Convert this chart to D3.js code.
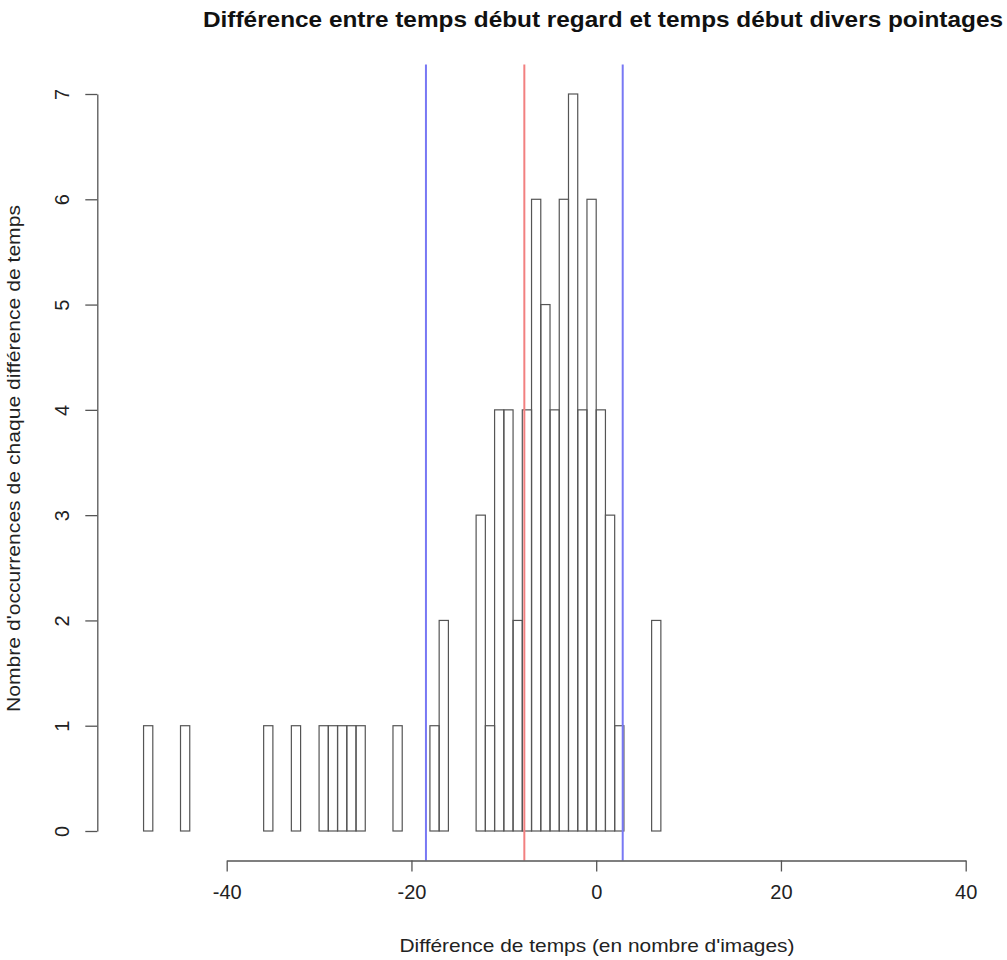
<!DOCTYPE html>
<html>
<head>
<meta charset="utf-8">
<script src="https://cdn.jsdelivr.net/npm/d3@7"></script>
<style>
  body { margin: 0; background: #fff; }
  svg { display: block; font-family: "Liberation Sans", Arial, sans-serif; }
</style>
</head>
<body>
<div id="chart"></div>
<script>
// Histogram bins (left edge, width 1 image) and counts
const binLefts = [-49, -48, -47, -46, -45, -44, -43, -42, -41, -40, -39, -38, -37, -36,
  -35, -34, -33, -32, -31, -30, -29, -28, -27, -26, -25, -24, -23, -22, -21, -20, -19,
  -18, -17, -16, -15, -14, -13, -12, -11, -10, -9, -8, -7, -6, -5, -4, -3, -2, -1,
  0, 1, 2, 3, 4, 5, 6];
const counts = [1, 0, 0, 0, 1, 0, 0, 0, 0, 0, 0, 0, 0, 1,
  0, 0, 1, 0, 0, 1, 1, 1, 1, 1, 0, 0, 0, 1, 0, 0, 0,
  1, 2, 0, 0, 0, 3, 1, 4, 4, 2, 4, 6, 5, 4, 6, 7, 4, 6,
  4, 3, 1, 0, 0, 0, 2];
const binWidth = 1;

// mean (red) and mean +/- sd (blue)
const meanLine = -7.78;
const sdLines = [-18.43, 2.87];

const xTicks = [-40, -20, 0, 20, 40];
const yTicks = [0, 1, 2, 3, 4, 5, 6, 7];

const title = 'Différence entre temps début regard et temps début divers pointages';
const xTitle = "Différence de temps (en nombre d'images)";
const yTitle = "Nombre d'occurrences de chaque différence de temps";

const width = 1007, height = 960;

const x = d3.scaleLinear().domain([-40, 40]).range([226.7, 965.7]);
const y = d3.scaleLinear().domain([0, 7]).range([831, 94]);

// plot region (R usr extents)
const plotLeft = 97.3, plotTop = y(7.28), plotBottom = y(-0.28);

const svg = d3.select('#chart')
  .append('svg')
  .attr('width', width)
  .attr('height', height);

// Bars
const bins = binLefts.map((b, i) => ({ x0: b, x1: b + binWidth, n: counts[i] }));

svg.append('g')
  .attr('class', 'bars')
  .selectAll('rect')
  .data(bins)
  .enter()
  .append('rect')
  .attr('x', d => x(d.x0))
  .attr('y', d => y(d.n))
  .attr('width', d => x(d.x1) - x(d.x0))
  .attr('height', d => y(0) - y(d.n))
  .attr('fill', 'none')
  .attr('stroke', '#555')
  .attr('stroke-width', 1.2);

// Vertical reference lines
svg.append('line')
  .attr('x1', x(meanLine)).attr('x2', x(meanLine))
  .attr('y1', plotTop).attr('y2', plotBottom)
  .attr('stroke', '#f28080')
  .attr('stroke-width', 2);

svg.append('g')
  .selectAll('line')
  .data(sdLines)
  .enter()
  .append('line')
  .attr('x1', d => x(d)).attr('x2', d => x(d))
  .attr('y1', plotTop).attr('y2', plotBottom)
  .attr('stroke', '#7878f4')
  .attr('stroke-width', 2);

// X axis
const xAxis = d3.axisBottom(x)
  .tickValues(xTicks)
  .tickSize(11)
  .tickPadding(13)
  .tickSizeOuter(0)
  .tickFormat(d => d);

const gx = svg.append('g')
  .attr('transform', `translate(0,${plotBottom})`)
  .call(xAxis);
gx.select('.domain').attr('stroke', '#555').attr('stroke-width', 1.3);
gx.selectAll('.tick line').attr('stroke', '#555').attr('stroke-width', 1.3);
gx.selectAll('.tick text')
  .attr('font-size', 20)
  .attr('fill', '#222')
  .attr('font-family', '"Liberation Sans", Arial, sans-serif');

// Y axis
const yAxis = d3.axisLeft(y)
  .tickValues(yTicks)
  .tickSize(12)
  .tickSizeOuter(0)
  .tickFormat(d => d);

const gy = svg.append('g')
  .attr('transform', `translate(${plotLeft},0)`)
  .call(yAxis);
gy.select('.domain').attr('stroke', '#555').attr('stroke-width', 1.3);
gy.selectAll('.tick line').attr('stroke', '#555').attr('stroke-width', 1.3);
gy.selectAll('.tick text')
  .attr('x', null)
  .attr('dy', null)
  .attr('transform', 'translate(-35,0) rotate(-90)')
  .attr('text-anchor', 'middle')
  .attr('dominant-baseline', 'central')
  .attr('font-size', 20)
  .attr('fill', '#222')
  .attr('font-family', '"Liberation Sans", Arial, sans-serif');

// Titles
svg.append('text')
  .attr('x', 603)
  .attr('y', 27)
  .attr('text-anchor', 'middle')
  .attr('font-size', 22)
  .attr('font-weight', 'bold')
  .attr('fill', '#111')
  .attr('textLength', 800)
  .attr('lengthAdjust', 'spacingAndGlyphs')
  .text(title);

svg.append('text')
  .attr('x', 597)
  .attr('y', 952)
  .attr('text-anchor', 'middle')
  .attr('font-size', 19)
  .attr('fill', '#222')
  .attr('textLength', 395)
  .attr('lengthAdjust', 'spacingAndGlyphs')
  .text(xTitle);

svg.append('text')
  .attr('transform', `translate(20,${(205 + 712) / 2}) rotate(-90)`)
  .attr('text-anchor', 'middle')
  .attr('font-size', 19)
  .attr('fill', '#222')
  .attr('textLength', 507)
  .attr('lengthAdjust', 'spacingAndGlyphs')
  .text(yTitle);
</script>
</body>
</html>
